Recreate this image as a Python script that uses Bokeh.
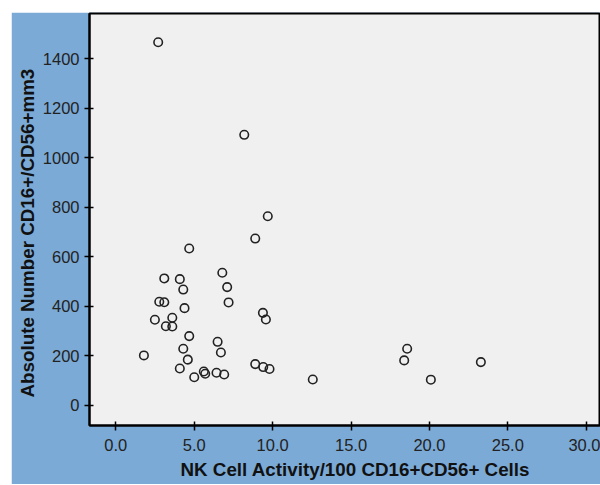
from bokeh.plotting import figure
from bokeh.models import Range1d, FixedTicker, PrintfTickFormatter, ColumnDataSource, Title
from bokeh.embed import file_html
from bokeh.resources import INLINE

# NK cell activity per 100 CD16+CD56+ cells
nk_activity = [2.70, 8.19, 9.69, 8.89, 4.68, 3.09, 4.08, 6.79, 4.30, 7.10,
               2.77, 3.09, 7.19, 4.38, 9.38, 9.57, 2.49, 3.60, 3.19, 3.60,
               4.68, 6.49, 6.70, 4.30, 1.79, 4.59, 4.08, 8.89, 9.40, 9.80,
               5.61, 5.70, 6.42, 6.91, 5.00, 12.56, 18.58, 18.39, 23.28, 20.09]
# Absolute number CD16+/CD56+ per mm3
abs_number = [1467, 1093, 764, 674, 634, 513, 510, 536, 468, 478,
              419, 417, 416, 393, 374, 347, 346, 354, 320, 319,
              280, 257, 214, 229, 202, 185, 149, 167, 155, 147,
              137, 128, 132, 125, 114, 105, 229, 182, 175, 104]

x_ticks = [0, 5, 10, 15, 20, 25, 30]
y_ticks = [0, 200, 400, 600, 800, 1000, 1200, 1400]
x_title = "NK Cell Activity/100 CD16+CD56+ Cells"
y_title = "Absolute Number CD16+/CD56+mm3"

src = ColumnDataSource(dict(x=nk_activity, y=abs_number))

p = figure(width=589, height=472, output_backend="svg", toolbar_location=None,
           x_range=Range1d(-1.68, 30.91), y_range=Range1d(-81, 1583),
           min_border_left=78, min_border_right=0, min_border_top=1, min_border_bottom=59)
p.margin = (12, 0, 0, 11)

p.background_fill_color = "#F0F0F0"
p.border_fill_color = "#7BAAD6"
p.outline_line_color = "black"
p.outline_line_width = 2
p.xgrid.visible = False
p.ygrid.visible = False

p.scatter("x", "y", source=src, marker="circle", size=8.5, fill_color=None,
          line_color="#222222", line_width=1.6)

for ax in (p.xaxis[0], p.yaxis[0]):
    ax.axis_line_color = "black"
    ax.axis_line_width = 2
    ax.major_tick_line_color = "black"
    ax.major_tick_line_width = 1.5
    ax.major_tick_in = 4
    ax.major_tick_out = 5
    ax.minor_tick_line_color = None
    ax.major_label_text_font = "Liberation Sans"
    ax.major_label_text_font_size = "16.5px"
    ax.major_label_text_color = "#222222"

p.xaxis.major_label_standoff = 8
p.yaxis.major_label_standoff = 5
p.xaxis.ticker = FixedTicker(ticks=x_ticks)
p.xaxis.formatter = PrintfTickFormatter(format="%.1f")
p.yaxis.ticker = FixedTicker(ticks=y_ticks)

title_style = dict(text_font="Liberation Sans", text_font_size="18.8px",
                   text_font_style="bold", text_color="#111111",
                   background_fill_color=None, border_line_color=None)
p.add_layout(Title(text=x_title, align="left", offset=91, standoff=6, **title_style), "below")
p.add_layout(Title(text=y_title, align="left", offset=28, standoff=4, **title_style), "left")

open("out.html", "w").write(file_html(p, INLINE))
